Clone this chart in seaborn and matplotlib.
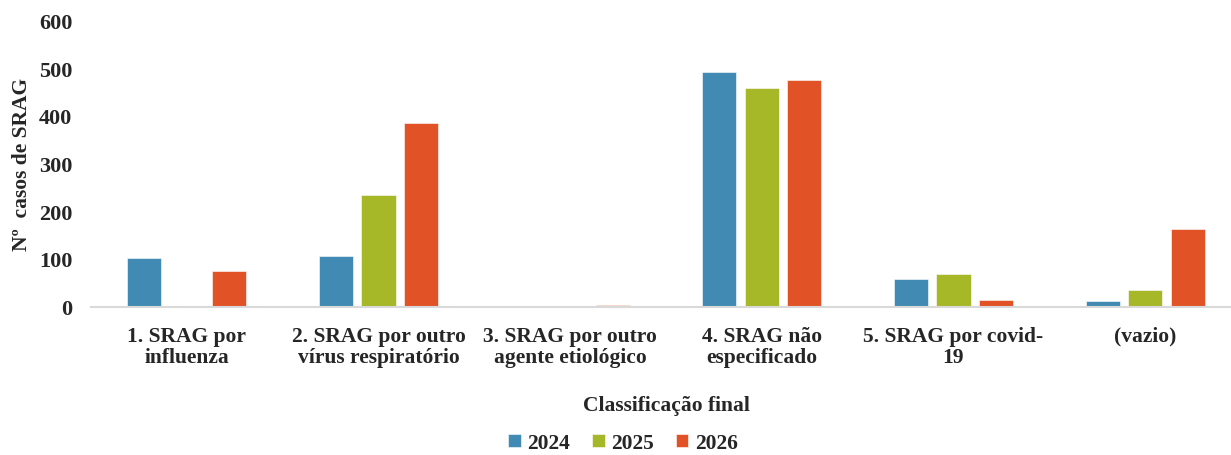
import pandas as pd
import matplotlib
matplotlib.use('Agg')
import matplotlib.pyplot as plt
import seaborn as sns

# Data
categories = ['1. SRAG por\ninfluenza', '2. SRAG por outro\nvírus respiratório',
              '3. SRAG por outro\nagente etiológico', '4. SRAG não\nespecificado',
              '5. SRAG por covid-\n19', '(vazio)']
years = ['2024', '2025', '2026']
cases_2024 = [102, 105, 1, 492, 57, 11]
cases_2025 = [2, 234, 0, 459, 68, 34]
cases_2026 = [74, 386, 4, 476, 14, 163]
y_ticks = [0, 100, 200, 300, 400, 500, 600]

colors = ['#418AB3', '#A6B727', '#E15327']

df = pd.DataFrame({
    'Classificação': categories * 3,
    'Ano': [y for y in years for _ in categories],
    'Casos': cases_2024 + cases_2025 + cases_2026,
})

sns.set_style('white')
plt.rcParams['font.family'] = ['Liberation Serif', 'DejaVu Serif']
plt.rcParams['font.weight'] = 'bold'

fig = plt.figure(figsize=(12.31, 4.56), dpi=100)
ax = fig.add_axes([91 / 1231, 148.5 / 456, 1150 / 1231, 285.8 / 456])

sns.barplot(data=df, x='Classificação', y='Casos', hue='Ano', hue_order=years,
            palette=colors, saturation=1, width=0.667, gap=0.2, ax=ax, legend=True,
            edgecolor='white', linewidth=0.4)

ax.set_ylim(0, 600)
ax.set_yticks(y_ticks)
ax.set_yticklabels([str(v) for v in y_ticks], fontsize=16, fontweight='bold')
ax.tick_params(axis='both', length=0)
ax.tick_params(axis='y', pad=13.5)
ax.tick_params(axis='x', pad=14)
for lbl in ax.get_xticklabels():
    lbl.set_fontsize(15.5)
    lbl.set_fontweight('bold')
    lbl.set_linespacing(1.1)

for s in ['top', 'right', 'left']:
    ax.spines[s].set_visible(False)
ax.spines['bottom'].set_color('#D9D9D9')
ax.spines['bottom'].set_linewidth(1.5)

ax.set_ylabel('Nº  casos de SRAG', fontsize=15.5, fontweight='bold', labelpad=5)
ax.set_xlabel('Classificação final', fontsize=15.5, fontweight='bold', labelpad=20)

handles, labels = ax.get_legend_handles_labels()
ax.get_legend().remove()
fig.legend(handles, labels, loc='center', bbox_to_anchor=(623 / 1231, 12 / 456),
           ncol=3, frameon=False, handlelength=0.6, handleheight=0.6,
           handletextpad=0.3, columnspacing=1.0, borderpad=0.1,
           prop={'family': 'Liberation Serif', 'weight': 'bold', 'size': 15.5})

fig.savefig('out.png', dpi=100)
